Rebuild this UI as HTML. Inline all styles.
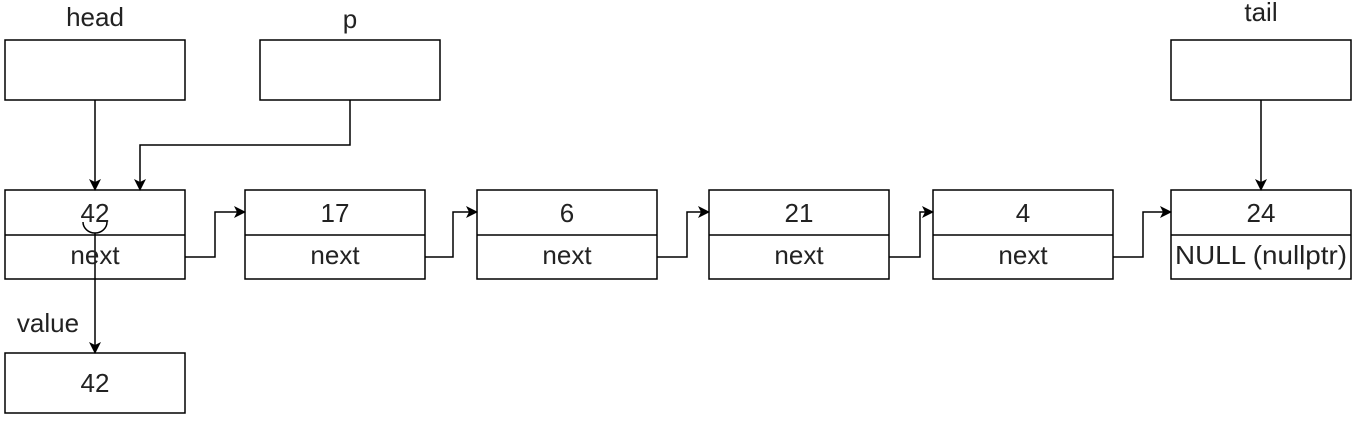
<!DOCTYPE html>
<html><head><meta charset="utf-8"><style>
body{margin:0;background:#fff}
svg{display:block}
text{font-family:"Liberation Sans",Arial,sans-serif;font-size:26px;fill:#222}
</style></head><body>
<svg width="1356" height="421" viewBox="0 0 1356 421">
<defs><marker id="ah" markerWidth="12" markerHeight="12" refX="11" refY="6" orient="auto" markerUnits="userSpaceOnUse"><path d="M0,0 L12,6 L0,12 L3,6 z" fill="#000"/></marker></defs>
<g fill="none" stroke="#000" stroke-width="1.5">
<rect x="5" y="40" width="180" height="60" fill="#fff"/>
<rect x="260" y="40" width="180" height="60" fill="#fff"/>
<rect x="1171" y="40" width="180" height="60" fill="#fff"/>
<rect x="5" y="353" width="180" height="60" fill="#fff"/>
<g><rect x="5" y="190" width="180" height="89"/><line x1="5" y1="235" x2="185" y2="235"/></g>
<g><rect x="245" y="190" width="180" height="89"/><line x1="245" y1="235" x2="425" y2="235"/></g>
<g><rect x="477" y="190" width="180" height="89"/><line x1="477" y1="235" x2="657" y2="235"/></g>
<g><rect x="709" y="190" width="180" height="89"/><line x1="709" y1="235" x2="889" y2="235"/></g>
<g><rect x="933" y="190" width="180" height="89"/><line x1="933" y1="235" x2="1113" y2="235"/></g>
<g><rect x="1171" y="190" width="180" height="89"/><line x1="1171" y1="235" x2="1351" y2="235"/></g>
<path d="M95,100 V190" marker-end="url(#ah)"/>
<path d="M350,100 V145 H140 V190" marker-end="url(#ah)"/>
<path d="M1261,100 V190" marker-end="url(#ah)"/>
<path d="M185,257 H215 V212 H245" marker-end="url(#ah)"/>
<path d="M425,257 H453 V212 H477" marker-end="url(#ah)"/>
<path d="M657,257 H687 V212 H709" marker-end="url(#ah)"/>
<path d="M889,257 H920 V212 H933" marker-end="url(#ah)"/>
<path d="M1113,257 H1143 V212 H1171" marker-end="url(#ah)"/>
<path d="M83,222 A12,11 0 0 0 107,222 M95,233 V353" marker-end="url(#ah)"/>
</g>
<g text-anchor="middle">
<text x="95" y="26">head</text>
<text x="350" y="28">p</text>
<text x="1261" y="21">tail</text>
<text x="48" y="332">value</text>
<text x="95" y="392">42</text>
<text x="95" y="222">42</text><text x="95" y="264">next</text>
<text x="335" y="222">17</text><text x="335" y="264">next</text>
<text x="567" y="222">6</text><text x="567" y="264">next</text>
<text x="799" y="222">21</text><text x="799" y="264">next</text>
<text x="1023" y="222">4</text><text x="1023" y="264">next</text>
<text x="1261" y="222">24</text><text x="1261" y="264" textLength="172" lengthAdjust="spacingAndGlyphs">NULL (nullptr)</text>
</g>
</svg>
</body></html>
